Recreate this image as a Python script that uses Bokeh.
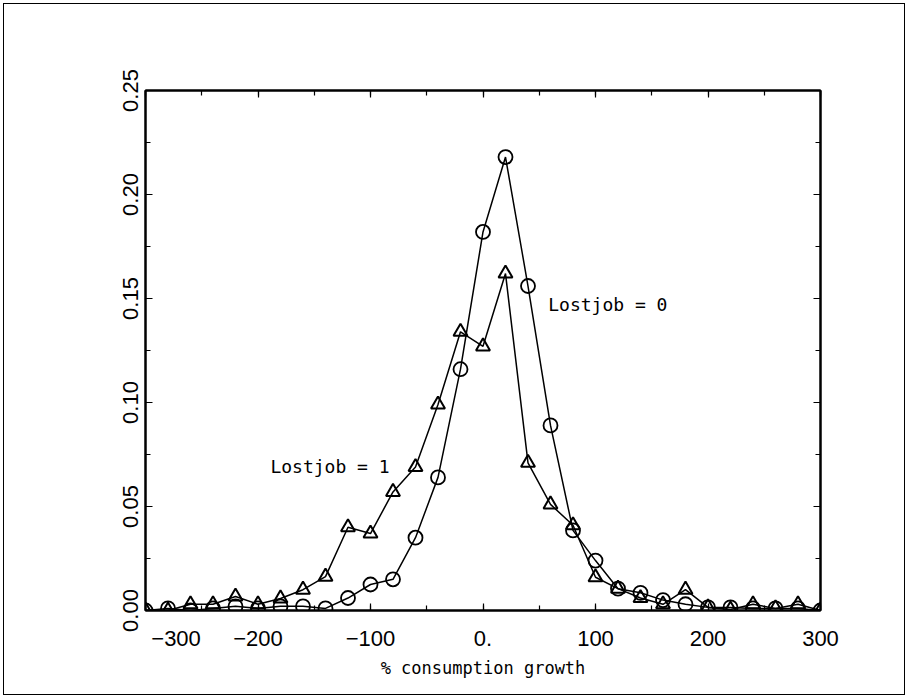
from bokeh.plotting import figure
from bokeh.models import LinearAxis, FixedTicker, Label, Range1d
from bokeh.embed import file_html
from bokeh.resources import INLINE

growth = [-300, -280, -260, -240, -220, -200, -180, -160, -140, -120, -100,
          -80, -60, -40, -20, 0, 20, 40, 60, 80, 100,
          120, 140, 160, 180, 200, 220, 240, 260, 280, 300]
lostjob0 = [0.000, 0.001, 0.000, 0.001, 0.002, 0.001, 0.002, 0.002, 0.001, 0.006, 0.0125,
            0.015, 0.035, 0.064, 0.116, 0.182, 0.218, 0.156, 0.089, 0.0385, 0.024,
            0.0105, 0.0085, 0.005, 0.003, 0.0015, 0.0015, 0.001, 0.001, 0.001, 0.000]
lostjob1 = [0.000, 0.000, 0.003, 0.003, 0.0067, 0.003, 0.0058, 0.010, 0.0163, 0.040, 0.037,
            0.057, 0.069, 0.099, 0.134, 0.127, 0.162, 0.071, 0.051, 0.041, 0.016,
            0.0105, 0.006, 0.003, 0.010, 0.0015, 0.0005, 0.003, 0.001, 0.003, 0.000]
x_ticks = [-300, -200, -100, 0, 100, 200, 300]
x_tick_labels = ["\u2212300", "\u2212200", "\u2212100", "0.", "100", "200", "300"]
y_ticks = [0.0, 0.05, 0.10, 0.15, 0.20, 0.25]
y_tick_labels = ["0.00", "0.05", "0.10", "0.15", "0.20", "0.25"]

W, H = 902, 692
p = figure(width=W, height=H, output_backend="svg", toolbar_location=None,
           x_range=Range1d(-300, 300), y_range=Range1d(0, 0.25),
           min_border_left=141, min_border_right=86, min_border_top=86,
           min_border_bottom=86, x_axis_location=None, y_axis_location=None)
p.styles = {"border": "1.5px solid black", "box-sizing": "border-box",
            "margin-left": "3px", "margin-top": "3px"}
p.grid.visible = False
p.outline_line_color = "black"
p.outline_line_width = 2
p.background_fill_color = "white"
p.border_fill_color = "white"

mono = "DejaVu Sans Mono"
sans = "Liberation Sans"

def style(ax, labels=True):
    ax.axis_line_color = "black"
    ax.axis_line_width = 2
    ax.major_tick_in = 7
    ax.major_tick_out = 0
    ax.minor_tick_in = 5
    ax.minor_tick_out = 0
    ax.major_tick_line_color = "black"
    ax.minor_tick_line_color = "black"
    ax.major_tick_line_width = 1.2
    ax.minor_tick_line_width = 1.2
    ax.major_label_text_color = "black"
    if not labels:
        ax.major_label_text_font_size = "0px"
        ax.major_label_text_color = None

xb = LinearAxis(ticker=FixedTicker(ticks=x_ticks, minor_ticks=list(range(-300, 301, 50))))
overrides = {t: l for t, l in zip(x_ticks, x_tick_labels)}
# the first label sits to the right of its tick in the original
overrides[x_ticks[0]] = "\u00a0" * 10 + x_tick_labels[0]
xb.major_label_overrides = overrides
style(xb)
xb.major_label_text_font = sans
xb.major_label_text_font_size = "22px"
xb.major_label_standoff = 15
xb.axis_label = "% consumption growth"
xb.axis_label_text_font = mono
xb.axis_label_text_font_size = "17px"
xb.axis_label_text_font_style = "normal"
xb.axis_label_text_color = "black"
xb.axis_label_standoff = 4
p.add_layout(xb, "below")

xt = LinearAxis(ticker=FixedTicker(ticks=x_ticks, minor_ticks=list(range(-300, 301, 50))))
style(xt, labels=False)
p.add_layout(xt, "above")

yl = LinearAxis(ticker=FixedTicker(ticks=y_ticks, minor_ticks=[i * 0.025 for i in range(11)]))
yl.major_label_overrides = {t: l for t, l in zip(y_ticks, y_tick_labels)}
style(yl)
yl.major_label_text_font = sans
yl.major_label_text_font_size = "22px"
yl.major_label_orientation = "vertical"
yl.major_label_standoff = 8
p.add_layout(yl, "left")

yr = LinearAxis(ticker=FixedTicker(ticks=y_ticks, minor_ticks=[i * 0.025 for i in range(11)]))
style(yr, labels=False)
p.add_layout(yr, "right")

p.line(growth, lostjob0, line_color="black", line_width=1.5)
p.line(growth, lostjob1, line_color="black", line_width=1.5)
p.scatter(growth, lostjob0, marker="circle", size=14, fill_color="white",
          fill_alpha=0.0, line_color="black", line_width=1.8)
p.scatter(growth, lostjob1, marker="triangle", size=14, fill_color="white",
          fill_alpha=0.0, line_color="black", line_width=2)

p.add_layout(Label(x=58, y=0.147, text="Lostjob = 0", text_font=mono,
                   text_font_size="18px", text_baseline="middle", text_color="black"))
p.add_layout(Label(x=-189, y=0.0692, text="Lostjob = 1", text_font=mono,
                   text_font_size="18px", text_baseline="middle", text_color="black"))

open("out.html", "w").write(file_html(p, INLINE))
